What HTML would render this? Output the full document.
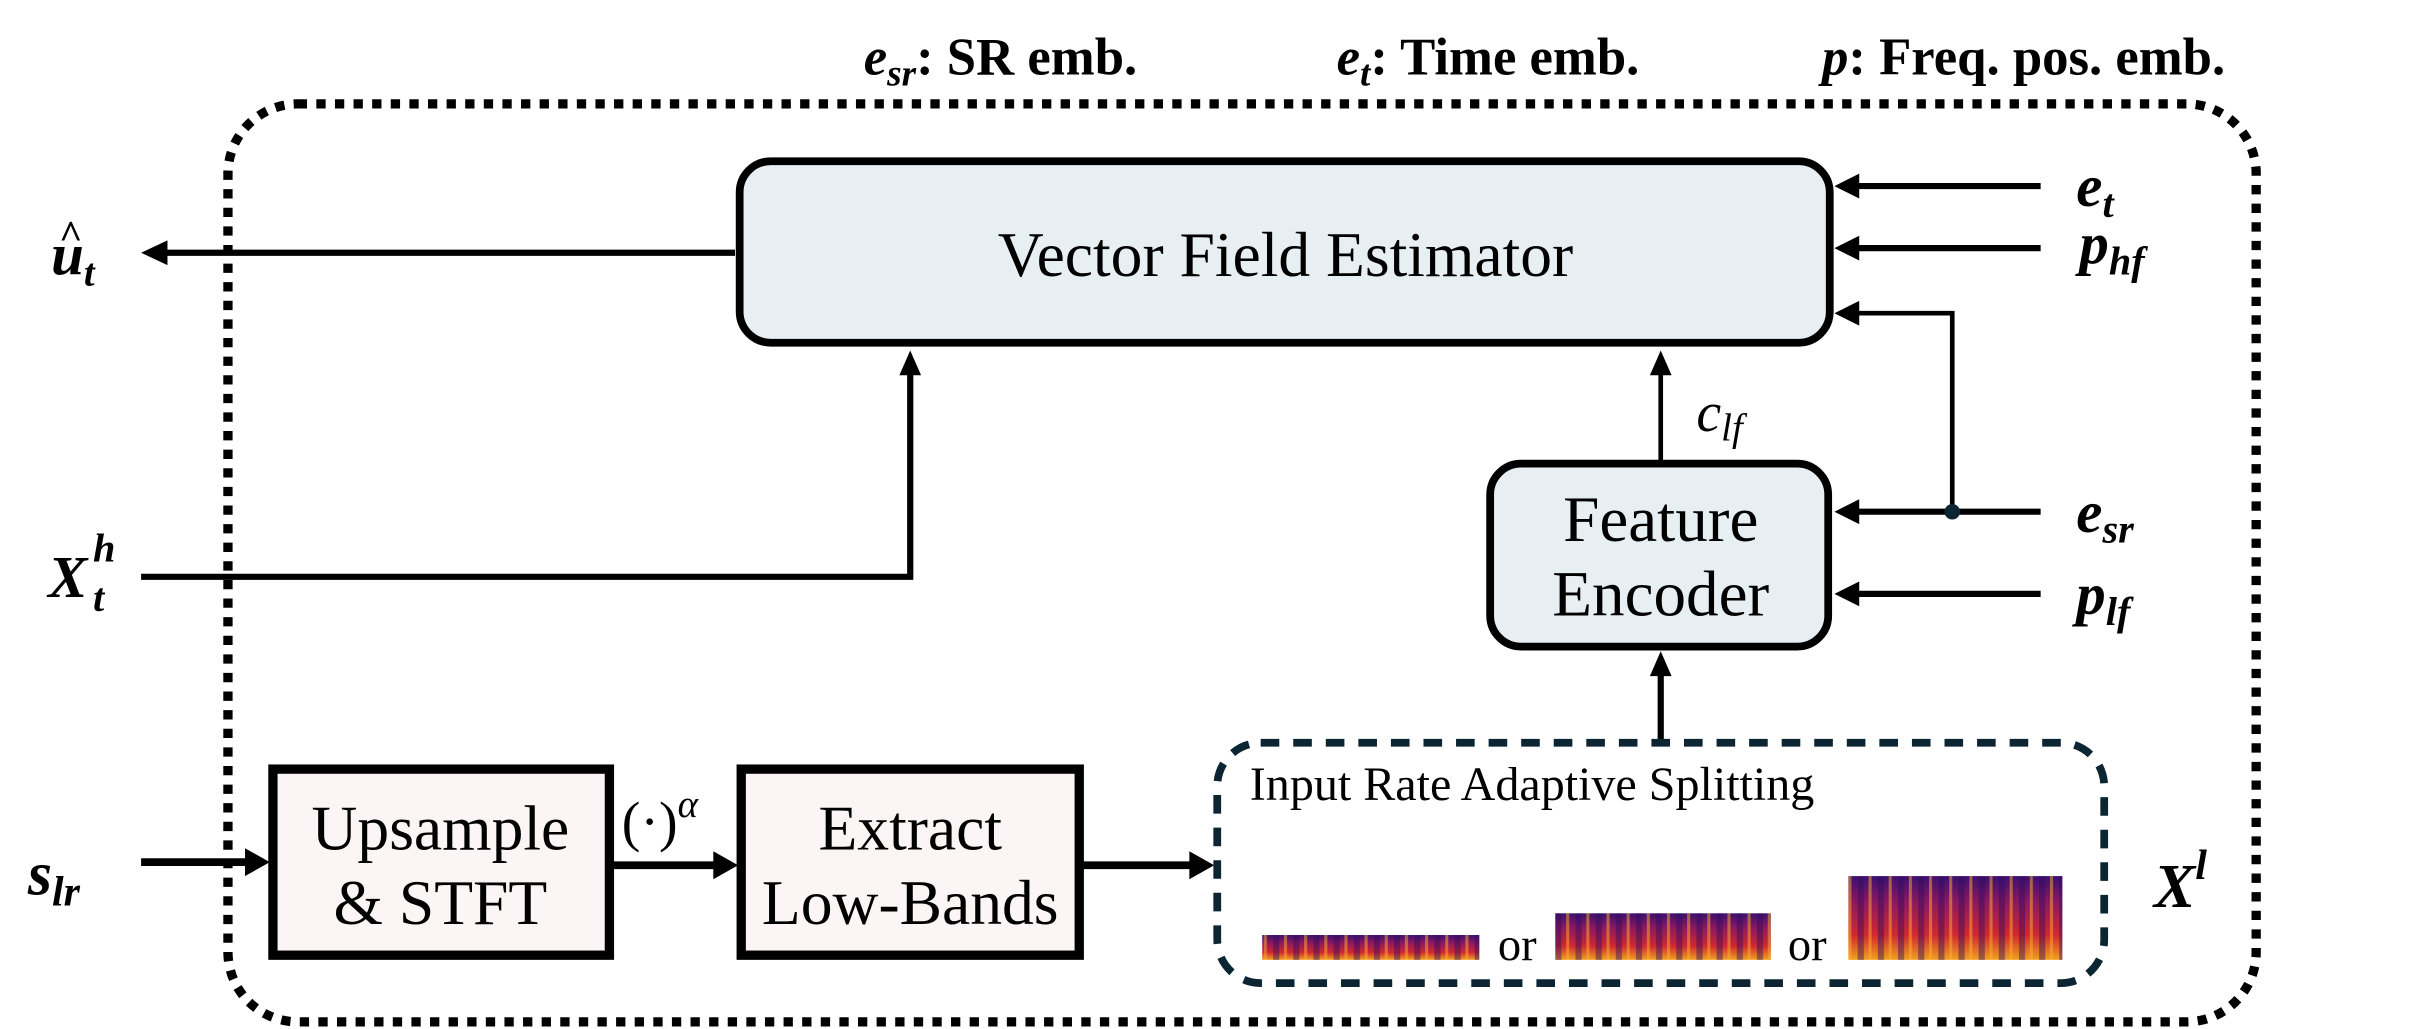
<!DOCTYPE html>
<html><head><meta charset="utf-8"><style>
html,body{margin:0;padding:0;background:#fff;}
svg{display:block;}
.m{font-family:"Liberation Serif",serif;font-style:italic;font-weight:bold;}
.t{font-family:"Liberation Serif",serif;}
</style></head><body>
<svg width="2419" height="1029" viewBox="0 0 1560 663.6" xmlns="http://www.w3.org/2000/svg">
<defs>
<linearGradient id="sg" x1="0" y1="1" x2="0" y2="0">
<stop offset="0" stop-color="#f0a020"/><stop offset="0.3" stop-color="#d02830"/><stop offset="0.7" stop-color="#8a1860"/><stop offset="1" stop-color="#3a1070"/></linearGradient>
<pattern id="st" width="13" height="10" patternUnits="userSpaceOnUse">
<rect x="0" width="2" height="10" fill="#ffb030" opacity="0.5"/><rect x="6" width="4" height="10" fill="#300a60" opacity="0.45"/></pattern>
</defs>
<g transform="translate(-4,0)">
<!-- top legend -->
<text class="m" x="561" y="48" font-size="34">e<tspan font-size="24" dy="7">sr</tspan><tspan dy="-7" font-style="normal">: SR emb.</tspan></text>
<text class="m" x="866" y="48" font-size="34">e<tspan font-size="24" dy="7">t</tspan><tspan dy="-7" font-style="normal">: Time emb.</tspan></text>
<text class="m" x="1179" y="48" font-size="34">p<tspan font-style="normal">: Freq. pos. emb.</tspan></text>

<rect x="151" y="67" width="1308" height="592" rx="45" fill="none" stroke="#000" stroke-width="6" stroke-dasharray="6,6"/>

<rect x="481" y="104" width="703" height="117" rx="20" fill="#e8eff3" stroke="#000" stroke-width="5"/>
<text class="t" x="833" y="178" font-size="41" text-anchor="middle">Vector Field Estimator</text>
<line x1="478" y1="163" x2="105" y2="163" stroke="#000" stroke-width="4"/>
<path d="M95,163 L112,155 L112,171 z"/>
<text class="m" x="37" y="177" font-size="38">u<tspan font-size="25" dy="7">t</tspan></text>
<text class="m" x="42" y="160" font-size="26">^</text>

<g stroke="#000" stroke-width="4">
<line x1="1320" y1="120" x2="1200" y2="120"/>
<line x1="1320" y1="160" x2="1200" y2="160"/>
<line x1="1320" y1="330" x2="1200" y2="330"/>
<line x1="1320" y1="383" x2="1200" y2="383"/>
</g>
<polyline points="1263,330 1263,202 1200,202" fill="none" stroke="#000" stroke-width="3"/>
<path d="M1187,120 L1203,112 L1203,128 z"/>
<path d="M1187,160 L1203,152 L1203,168 z"/>
<path d="M1187,202 L1203,194 L1203,210 z"/>
<path d="M1187,330 L1203,322 L1203,338 z"/>
<path d="M1187,383 L1203,375 L1203,391 z"/>
<circle cx="1263" cy="330" r="5" fill="#0b2533"/>
<text class="m" x="1343" y="133" font-size="38">e<tspan font-size="26" dy="7">t</tspan></text>
<text class="m" x="1345" y="170" font-size="38">p<tspan font-size="26" dy="7">hf</tspan></text>
<text class="m" x="1343" y="343" font-size="38">e<tspan font-size="26" dy="7">sr</tspan></text>
<text class="m" x="1343" y="396" font-size="38">p<tspan font-size="26" dy="7">lf</tspan></text>

<rect x="965" y="299" width="218" height="118" rx="20" fill="#e8eff3" stroke="#000" stroke-width="5"/>
<text class="t" x="1075" y="349" font-size="42" text-anchor="middle">Feature</text>
<text class="t" x="1075" y="397" font-size="42" text-anchor="middle">Encoder</text>
<line x1="1075" y1="298" x2="1075" y2="240" stroke="#000" stroke-width="3"/>
<path d="M1075,226 L1068,242 L1082,242 z"/>
<text x="1098" y="278" font-size="36" font-family="Liberation Serif,serif" font-style="italic">c<tspan font-size="25" dy="6">lf</tspan></text>
<line x1="1075" y1="477" x2="1075" y2="434" stroke="#000" stroke-width="4"/>
<path d="M1075,420 L1068,436 L1082,436 z"/>

<polyline points="95,372 591,372 591,240" fill="none" stroke="#000" stroke-width="4"/>
<path d="M591,226 L584,242 L598,242 z"/>
<text class="m" x="35" y="385" font-size="38">X</text>
<text class="m" x="64" y="362" font-size="26">h</text>
<text class="m" x="64" y="394" font-size="26">t</text>

<rect x="180" y="496" width="217" height="120" fill="#fbf5f5" stroke="#000" stroke-width="6"/>
<text class="t" x="288" y="548" font-size="41" text-anchor="middle">Upsample</text>
<text class="t" x="288" y="596" font-size="41" text-anchor="middle">&amp; STFT</text>
<rect x="482" y="496" width="218" height="120" fill="#fbf5f5" stroke="#000" stroke-width="6"/>
<text class="t" x="591" y="548" font-size="41" text-anchor="middle">Extract</text>
<text class="t" x="591" y="596" font-size="41" text-anchor="middle">Low-Bands</text>
<g stroke="#000" stroke-width="5">
<line x1="95" y1="556" x2="165" y2="556"/>
<line x1="398" y1="558" x2="465" y2="558"/>
<line x1="701" y1="558" x2="772" y2="558"/>
</g>
<path d="M178,556 L162,547 L162,565 z"/>
<path d="M480,558 L464,549 L464,567 z"/>
<path d="M787,558 L771,549 L771,567 z"/>
<text class="m" x="22" y="577" font-size="40">s<tspan font-size="27" dy="7">lr</tspan></text>
<text class="t" x="405" y="542" font-size="36">(·)<tspan font-style="italic" font-size="25" dy="-15">α</tspan></text>

<rect x="789" y="479" width="572" height="155" rx="28" fill="none" stroke="#0b2533" stroke-width="5" stroke-dasharray="12,9"/>
<text class="t" x="810" y="516" font-size="31">Input Rate Adaptive Splitting</text>
<rect x="818" y="603" width="140" height="16" fill="url(#sg)"/>
<rect x="818" y="603" width="140" height="16" fill="url(#st)"/>
<text class="t" x="970" y="619" font-size="30">or</text>
<rect x="1007" y="589" width="139" height="30" fill="url(#sg)"/>
<rect x="1007" y="589" width="139" height="30" fill="url(#st)"/>
<text class="t" x="1157" y="619" font-size="30">or</text>
<rect x="1196" y="565" width="138" height="54" fill="url(#sg)"/>
<rect x="1196" y="565" width="138" height="54" fill="url(#st)"/>
<text class="m" x="1393" y="585" font-size="40">X<tspan font-size="27" dy="-18">l</tspan></text>
</g>
</svg>
</body></html>
